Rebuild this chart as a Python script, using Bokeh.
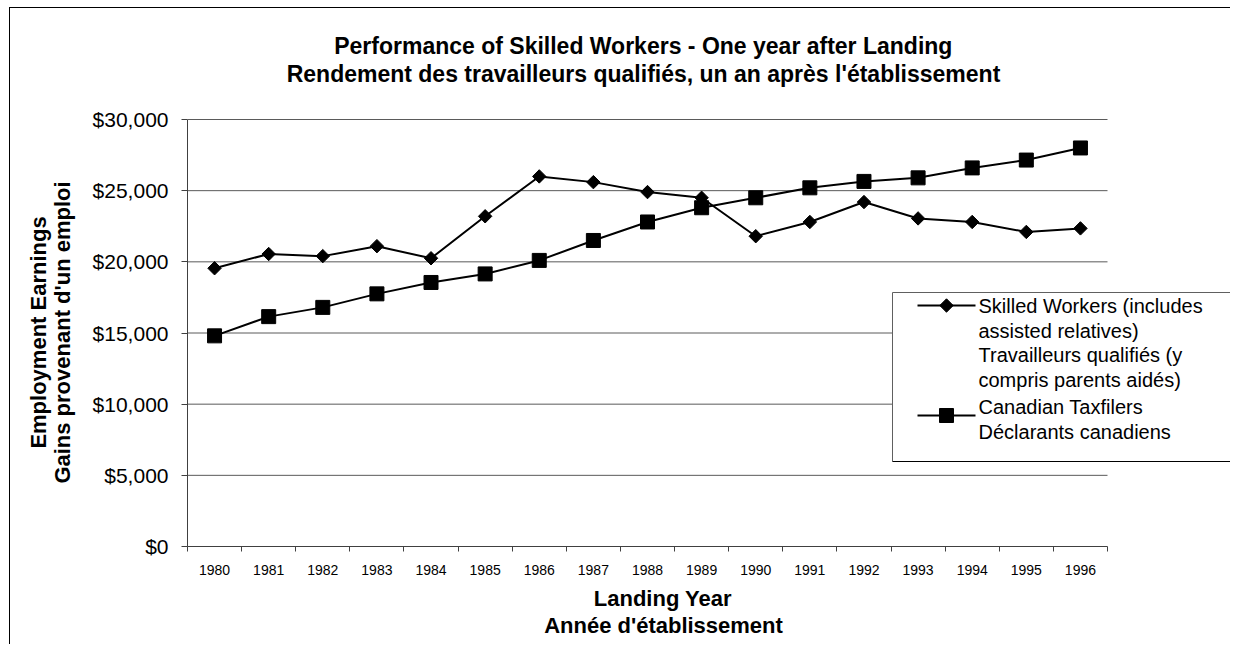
import numpy as np
from bokeh.plotting import figure
from bokeh.models import (Range1d, FixedTicker, NumeralTickFormatter, Label, BoxAnnotation,
                          LinearAxis, Title)
from bokeh.embed import file_html
from bokeh.resources import INLINE

# ---------------- data ----------------
years = ["1980", "1981", "1982", "1983", "1984", "1985", "1986", "1987", "1988",
         "1989", "1990", "1991", "1992", "1993", "1994", "1995", "1996"]
skilled = [19550, 20550, 20400, 21100, 20250, 23200, 26000, 25600, 24900,
           24500, 21800, 22800, 24200, 23050, 22800, 22100, 22350]
taxfilers = [14800, 16150, 16800, 17750, 18550, 19150, 20100, 21500, 22800,
             23800, 24500, 25200, 25650, 25900, 26600, 27150, 28000]
y_ticks = [0, 5000, 10000, 15000, 20000, 25000, 30000]

series_names = ["Skilled Workers (includes\nassisted relatives)\nTravailleurs qualifiés (y\ncompris parents aidés)",
                "Canadian Taxfilers\nDéclarants canadiens"]
title_lines = ["Performance of Skilled Workers - One year after Landing",
               "Rendement des travailleurs qualifiés, un an après l'établissement"]
x_title_lines = ["Landing Year", "Année d'établissement"]
y_title = "Employment Earnings\nGains provenant d'un emploi"

FONT = "Liberation Sans"

# advance widths (1/1000 em) of Liberation Sans Bold, used to centre titles
BOLD_W = {' ': 278, "'": 238, ',': 278, '-': 333, 'A': 722, 'L': 611, 'O': 778, 'P': 667,
          'R': 722, 'S': 667, 'W': 944, 'Y': 667, 'a': 556, 'b': 611, 'c': 556, 'd': 611,
          'e': 556, 'f': 333, 'g': 611, 'h': 611, 'i': 278, 'k': 556, 'l': 278, 'm': 889,
          'n': 611, 'o': 611, 'p': 611, 'q': 611, 'r': 389, 's': 556, 't': 333, 'u': 611,
          'v': 556, 'w': 778, 'x': 556, 'y': 556, 'é': 556, 'è': 556}


def bold_width(s, size):
    return sum(BOLD_W.get(c, 600) for c in s) / 1000.0 * size


# ---------------- layout (page pixels) ----------------
ORIG_X, ORIG_Y = 10, 8       # canvas origin on page
W, H = 1221, 637
F_LEFT, F_TOP, F_BOTTOM = 187, 118, 546
X_AXIS_RIGHT = 1107
Y_TOP_TICK = 119
TITLE_CX = 643
XTITLE_CX = 663

n = len(years)
x_px = (X_AXIS_RIGHT - F_LEFT) / n
y_px = (F_BOTTOM - Y_TOP_TICK) / y_ticks[-1]
x_end = (ORIG_X + W - F_LEFT) / x_px
y_end = (F_BOTTOM - F_TOP) / y_px


def dx(px):
    return (px - F_LEFT) / x_px


def dy(py):
    return (F_BOTTOM - py) / y_px


p = figure(width=W, height=H, x_range=Range1d(0, x_end), y_range=Range1d(0, y_end),
           output_backend="svg", toolbar_location=None, title=None,
           min_border_left=F_LEFT - ORIG_X, min_border_right=0,
           min_border_top=F_TOP - ORIG_Y, min_border_bottom=ORIG_Y + H - F_BOTTOM)
p.styles = {"margin-left": "9px", "margin-top": "7px",
            "border-left": "1px solid black", "border-top": "1px solid black"}
p.outline_line_color = None
p.background_fill_color = "white"
p.border_fill_color = "white"
p.xgrid.visible = False
p.ygrid.visible = False

# grid lines (only across category span)
gy = y_ticks[1:]
p.segment(x0=[0] * len(gy), x1=[n] * len(gy), y0=gy, y1=gy, line_color="#5a5a5a", line_width=1)

# x axis
xax = p.xaxis[0]
centers = [i + 0.5 for i in range(n)]
xax.ticker = FixedTicker(ticks=centers, minor_ticks=list(range(n + 1)))
xax.major_label_overrides = {c: y for c, y in zip(centers, years)}
xax.bounds = (0, n)
xax.major_tick_out = 0
xax.major_tick_in = 0
xax.minor_tick_out = 5
xax.minor_tick_in = 0
xax.minor_tick_line_color = "#404040"
xax.axis_line_color = "#404040"
xax.major_label_standoff = 13
xax.major_label_text_font = FONT
xax.major_label_text_font_size = "14px"
xax.major_label_text_color = "black"

# y axis
yax = p.yaxis[0]
yax.ticker = FixedTicker(ticks=y_ticks, minor_ticks=[])
yax.formatter = NumeralTickFormatter(format="$0,0")
yax.bounds = (0, y_ticks[-1])
yax.major_tick_out = 6
yax.major_tick_in = 0
yax.minor_tick_out = 0
yax.minor_tick_in = 0
yax.major_tick_line_color = "#404040"
yax.axis_line_color = "#404040"
yax.major_label_standoff = 13
yax.major_label_text_font = FONT
yax.major_label_text_font_size = "21px"
yax.major_label_text_color = "black"
yax.axis_label = y_title
yax.axis_label_standoff = 15
yax.axis_label_text_font = FONT
yax.axis_label_text_font_size = "22px"
yax.axis_label_text_font_style = "bold"
yax.axis_label_text_line_height = 0.95
yax.axis_label_text_color = "black"


def spacer(gap):
    # an axis with a single white tick at the plot's left edge: it only reserves space
    a = LinearAxis(ticker=FixedTicker(ticks=[0], minor_ticks=[]))
    a.axis_line_color = None
    a.major_tick_line_color = "white"
    a.minor_tick_line_color = None
    a.major_tick_out = gap
    a.major_tick_in = 0
    a.minor_tick_out = 0
    a.major_label_standoff = 0
    a.major_label_overrides = {0: ""}
    a.major_label_text_font_size = "0px"
    return a


def title_line(text, size, cx):
    return Title(text=text, align="left", offset=cx - bold_width(text, size) / 2 - F_LEFT,
                 standoff=0, vertical_align="bottom", text_font=FONT,
                 text_font_size=f"{size}px", text_font_style="bold", text_color="black")


# chart title (two centred lines above the plot)
p.add_layout(spacer(32), "above")
p.add_layout(title_line(title_lines[1], 23, TITLE_CX), "above")
p.add_layout(title_line(title_lines[0], 23, TITLE_CX), "above")

# x axis title (two centred lines below the axis)
p.add_layout(spacer(6), "below")
p.add_layout(title_line(x_title_lines[0], 22, XTITLE_CX), "below")
p.add_layout(title_line(x_title_lines[1], 22, XTITLE_CX), "below")

# series
p.line(centers, skilled, line_color="black", line_width=2)
p.scatter(centers, skilled, marker="square", angle=np.pi / 4, size=9.5,
          fill_color="black", line_color="black")
p.line(centers, taxfilers, line_color="black", line_width=2)
p.scatter(centers, taxfilers, marker="square", size=14, fill_color="black", line_color="black")

# legend (drawn manually)
L_LEFT, L_TOP, L_BOTTOM = 892, 292, 461
p.add_layout(BoxAnnotation(left=dx(L_LEFT), right=x_end + 5, top=dy(L_TOP), bottom=dy(L_BOTTOM),
                           fill_color="white", fill_alpha=1.0, line_color=None))
p.segment(x0=[dx(L_LEFT), dx(L_LEFT)], y0=[dy(L_TOP), dy(L_TOP)],
          x1=[x_end + 5, dx(L_LEFT)], y1=[dy(L_TOP), dy(L_BOTTOM)],
          line_color="#606060", line_width=1, level="overlay")
p.segment(x0=[dx(L_LEFT)], y0=[dy(L_BOTTOM)], x1=[x_end + 5], y1=[dy(L_BOTTOM)],
          line_color="black", line_width=1, level="overlay")
sample_y = [305, 415]
text_y = [306, 407]
for py in sample_y:
    p.line([dx(917), dx(975)], [dy(py), dy(py)], line_color="black", line_width=2,
           level="overlay")
p.scatter([dx(946)], [dy(sample_y[0])], marker="square", angle=np.pi / 4, size=9.5,
          fill_color="black", line_color="black", level="overlay")
p.scatter([dx(946)], [dy(sample_y[1])], marker="square", size=14,
          fill_color="black", line_color="black", level="overlay")
for name, py in zip(series_names, text_y):
    p.add_layout(Label(x=dx(978), y=dy(py - 11.5), text=name, text_align="left",
                       text_baseline="top", text_font=FONT, text_font_size="20px",
                       text_line_height=1.12, text_color="black"))

open("out.html", "w").write(file_html(p, INLINE))
